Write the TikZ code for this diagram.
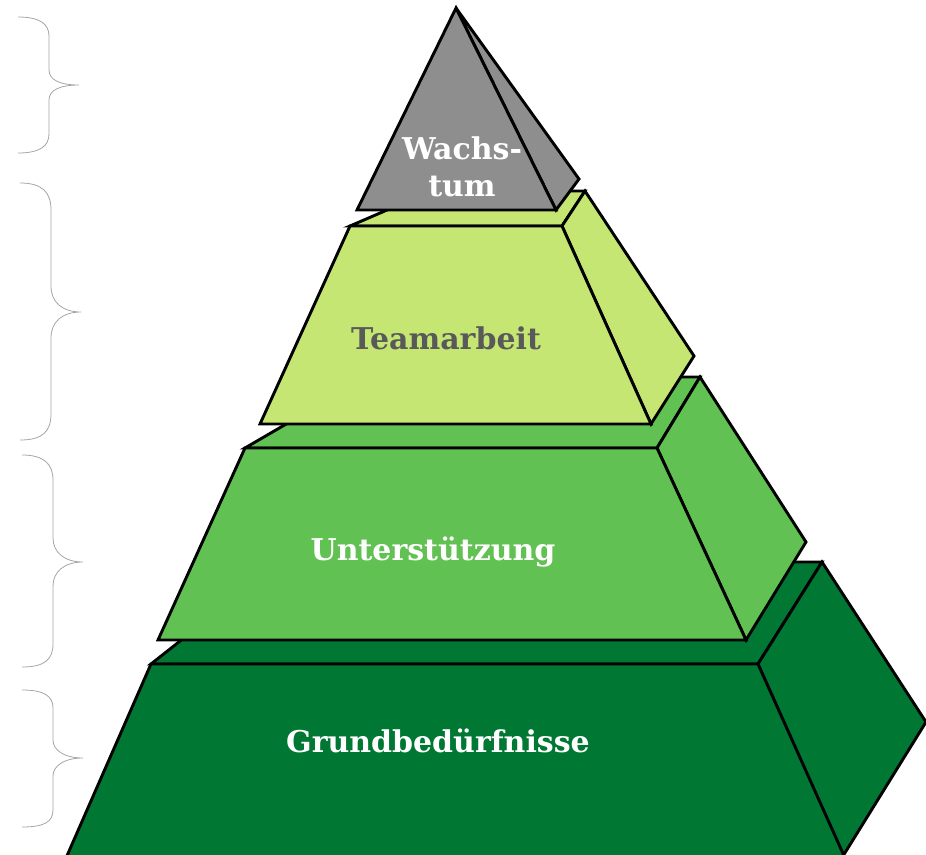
\documentclass[tikz,border=0pt]{standalone}
\usepackage{fontspec}
\newfontfamily\labelfont{DejaVu Serif}
\definecolor{gdark}{RGB}{0,120,52}
\definecolor{gmid}{RGB}{98,193,83}
\definecolor{glight}{RGB}{197,230,115}
\definecolor{pgray}{RGB}{141,142,141}
\definecolor{tgray}{RGB}{89,89,89}
\definecolor{bracegray}{RGB}{165,165,165}
\tikzset{
  face/.style={draw=black, line width=2.9pt, line join=miter},
  bracepath/.style={draw=bracegray, line width=0.8pt},
  lbl/.style={font=\labelfont\bfseries\fontsize{30}{37}\selectfont, align=center, inner sep=0pt}
}
\begin{document}
\begin{tikzpicture}[x=1pt,y=-1pt]
\useasboundingbox (0,0) rectangle (926,854);
% braces
\draw[bracepath] (18,17) .. controls (40,17) and (49,24) .. (49,36) -- (49,70) .. controls (49,80) and (60,85) .. (79,85)
  .. controls (60,85) and (49,90) .. (49,100) -- (49,134) .. controls (49,146) and (40,153) .. (18,153);
\draw[bracepath] (20,183) .. controls (42,183) and (51,192) .. (51,210) -- (51,286) .. controls (51,302) and (62,312) .. (81,312)
  .. controls (62,312) and (51,322) .. (51,338) -- (51,414) .. controls (51,432) and (42,440) .. (20,440);
\draw[bracepath] (22,455) .. controls (44,455) and (53,464) .. (53,480) -- (53,538) .. controls (53,552) and (64,562) .. (83,562)
  .. controls (64,562) and (53,572) .. (53,586) -- (53,644) .. controls (53,660) and (44,667) .. (22,667);
\draw[bracepath] (22,690) .. controls (44,690) and (53,696) .. (53,708) -- (53,740) .. controls (53,750) and (64,758) .. (83,758)
  .. controls (64,758) and (53,766) .. (53,776) -- (53,810) .. controls (53,822) and (44,827) .. (22,827);
% Grundbeduerfnisse
\filldraw[face, fill=gdark] (151,664) -- (280,562) -- (822,562) -- (758,664) -- cycle;
\filldraw[face, fill=gdark] (758,664) -- (822,562) -- (926,722) -- (843,856) -- cycle;
\filldraw[face, fill=gdark] (151,664) -- (758,664) -- (845,858) -- (66,858) -- cycle;
% Unterstuetzung
\filldraw[face, fill=gmid] (245,448) -- (367,377) -- (700,377) -- (657,448) -- cycle;
\filldraw[face, fill=gmid] (657,448) -- (700,377) -- (806,542) -- (746,640) -- cycle;
\filldraw[face, fill=gmid] (245,448) -- (657,448) -- (746,640) -- (158,640) -- cycle;
% Teamarbeit
\filldraw[face, fill=glight] (350,226) -- (431,191) -- (585,191) -- (562,226) -- cycle;
\filldraw[face, fill=glight] (562,226) -- (585,191) -- (694,356) -- (651,424) -- cycle;
\filldraw[face, fill=glight] (350,226) -- (562,226) -- (651,424) -- (260,424) -- cycle;
% Wachstum
\filldraw[face, fill=pgray] (456,8) -- (579,179) -- (556,210) -- cycle;
\filldraw[face, fill=pgray] (456,8) -- (556,210) -- (357,210) -- cycle;
% labels
\node[lbl, text=white] (wachstum) at (462,167) {Wachs-\\tum};
\node[lbl, text=tgray] (team) at (446,338) {Teamarbeit};
\node[lbl, text=white] (unter) at (433,552) {Unterstützung};
\node[lbl, text=white] (grund) at (438,741) {Grundbedürfnisse};
\end{tikzpicture}
\end{document}
